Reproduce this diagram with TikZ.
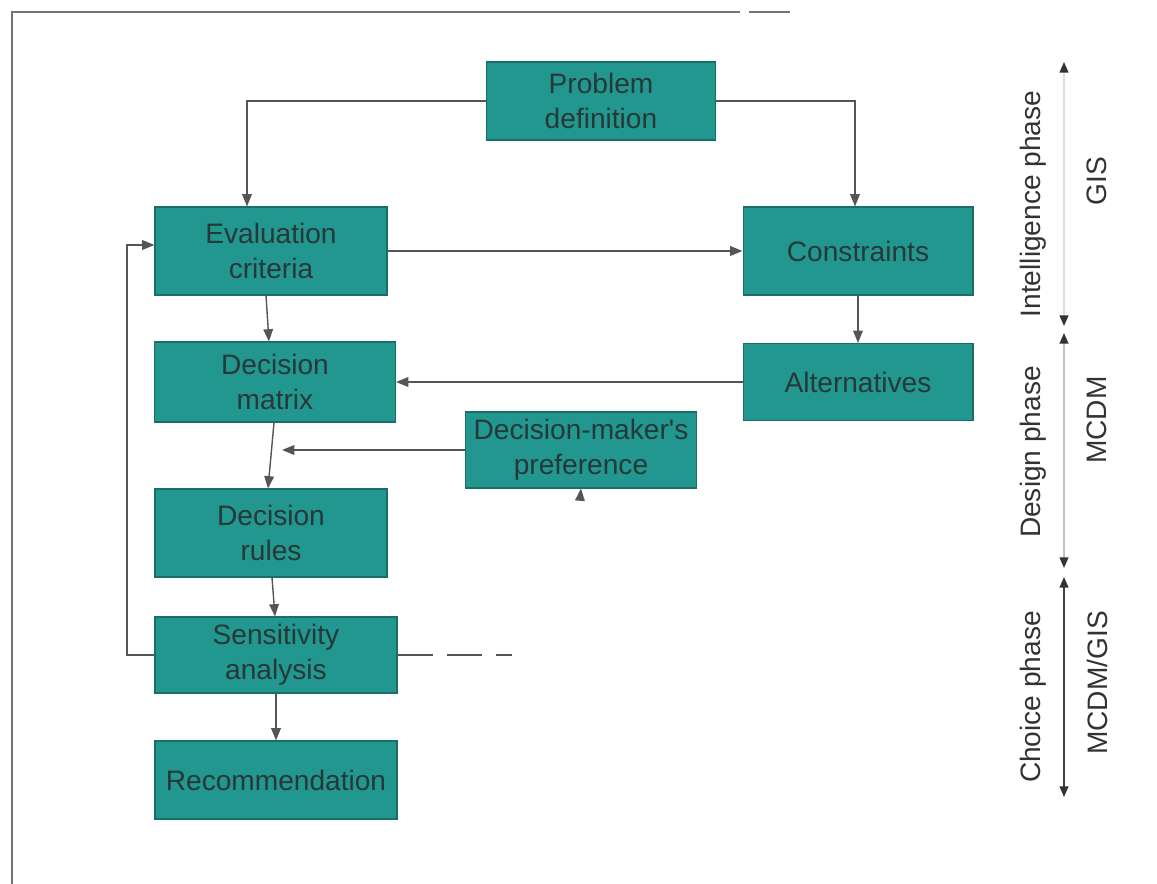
\documentclass[tikz,border=0pt]{standalone}
\usepackage{fontspec}
\setmainfont{Liberation Sans}
\usetikzlibrary{arrows.meta,calc}
\definecolor{boxfill}{HTML}{21978F}
\definecolor{boxedge}{HTML}{1A6E69}
\definecolor{txt}{HTML}{263838}
\definecolor{line}{HTML}{555555}
\tikzset{
  box/.style={rectangle, fill=boxfill, draw=boxedge, line width=0.6pt, align=center,
    text=txt, font=\fontsize{16}{20}\selectfont, inner sep=2pt},
  conn/.style={draw=line, line width=0.8pt},
  arr/.style={conn, -{Triangle[length=7pt,width=5.5pt]}},
  phase/.style={line width=0.8pt, {Triangle[length=6pt,width=5pt,color=black!80]}-{Triangle[length=6pt,width=5pt,color=black!80]}},
  lab/.style={rotate=90, text=black!80, font=\fontsize{16}{20}\selectfont, inner sep=1pt},
  frameline/.style={draw=black!55, line width=1pt}
}
\begin{document}
\begin{tikzpicture}[x=0.02cm,y=-0.02cm]
\useasboundingbox (0,0) rectangle (1157,884);
% frame
\draw[frameline] (12,884) -- (12,12) -- (740,12);
\draw[frameline] (749,12) -- (790,12);
% boxes
\node[box, minimum width=4.58cm, minimum height=1.56cm] (prob) at (601,101) {Problem\\definition};
\node[box, minimum width=4.64cm, minimum height=1.76cm] (eval) at (271,251) {Evaluation\\criteria};
\node[box, minimum width=4.60cm, minimum height=1.76cm] (cons) at (858,251) {Constraints};
\node[box, minimum width=4.82cm, minimum height=1.60cm] (mat) at (275,382) {Decision\\matrix};
\node[box, minimum width=4.60cm, minimum height=1.54cm] (alt) at (858,382) {Alternatives};
\node[box, minimum width=4.62cm, minimum height=1.52cm] (pref) at (581,450) {Decision-maker\textquotesingle s\\preference};
\node[box, minimum width=4.64cm, minimum height=1.76cm] (rules) at (271,533) {Decision\\rules};
\node[box, minimum width=4.84cm, minimum height=1.52cm] (sens) at (276,655) {Sensitivity\\analysis};
\node[box, minimum width=4.84cm, minimum height=1.56cm] (rec) at (276,780) {Recommendation};
% connectors
\draw[arr] (prob.west) -| ($(eval.north)+(-24,0)$);
\draw[arr] (prob.east) -| ($(cons.north)+(-3,0)$);
\draw[arr] (eval.east) -- (cons.west);
\draw[arr] ($(eval.south)+(-5,0)$) -- ($(mat.north)+(-6,0)$);
\draw[arr] (cons.south) -- (alt.north);
\draw[arr] (alt.west) -- (mat.east);
\draw[arr] ($(mat.south)+(-1,0)$) -- ($(rules.north)+(-3,0)$);
\coordinate (prefin) at (282,450);
\draw[arr] (pref.west) -- (prefin);
\draw[arr] ($(rules.south)+(1,0)$) -- ($(sens.north)+(-1,0)$);
\draw[arr] (sens.west) -- (127,655) |- ($(eval.west)+(0,-6)$);
\draw[arr] (sens.south) -- (rec.north);
\coordinate (sensend) at (512,655);
\draw[conn, dash pattern=on 20pt off 8pt] (sens.east) -- (sensend);
\coordinate (prefstub) at (580,500);
\draw[arr] (prefstub) -- (pref.south);
% phase arrows
\coordinate (i1) at (1064,62); \coordinate (i2) at (1064,326);
\coordinate (d1) at (1064,333); \coordinate (d2) at (1064,568);
\coordinate (c1) at (1064,577); \coordinate (c2) at (1064,797);
\draw[phase, draw=black!12] (i1) -- (i2);
\draw[phase, draw=black!25] (d1) -- (d2);
\draw[phase, draw=black!75] (c1) -- (c2);
% labels
\node[lab] (lint) at (1033,204) {Intelligence phase};
\node[lab] (ldes) at (1033,452) {Design phase};
\node[lab] (lcho) at (1033,697) {Choice phase};
\node[lab] (lgis) at (1097,181) {GIS};
\node[lab] (lmcdm) at (1097,420) {MCDM};
\node[lab] (lmg) at (1097,683) {MCDM/GIS};
\end{tikzpicture}
\end{document}
